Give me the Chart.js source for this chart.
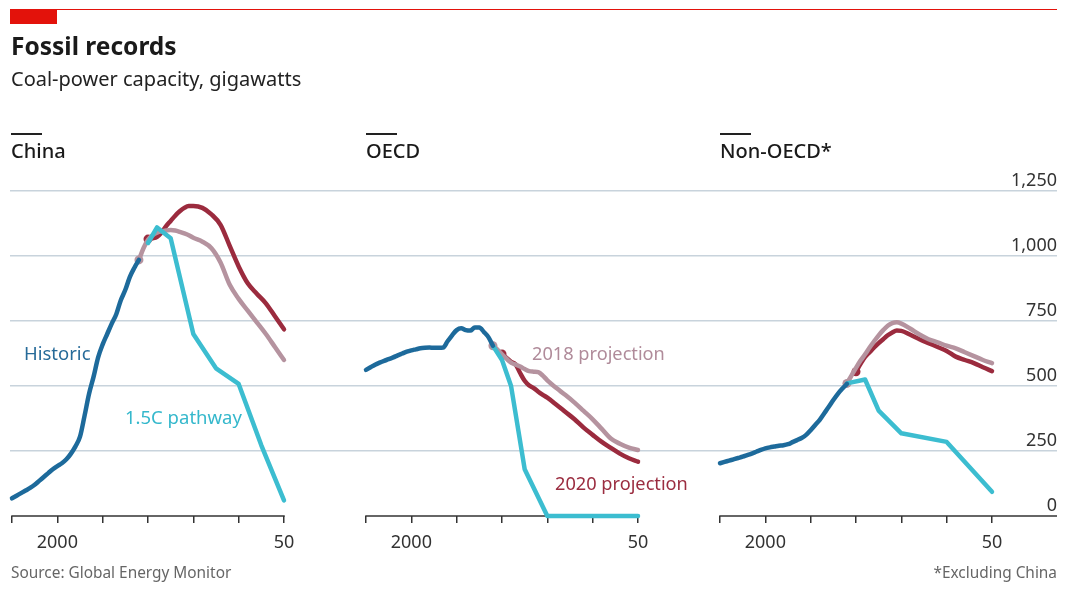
<!DOCTYPE html>
<html>
<head>
<meta charset="utf-8">
<script src="https://cdn.jsdelivr.net/npm/chart.js@4"></script>
<style>
  body { margin: 0; background: #fff; }
  #wrap { position: relative; width: 1071px; height: 595px; font-family: "Noto Sans", sans-serif; color: #222; }
  #wrap canvas { position: absolute; left: 0; top: 0; }
  .t { position: absolute; white-space: nowrap; line-height: 1; }
  .bar { position: absolute; background: #222; }
  .panel { font-size: 20px; font-weight: 500; color: #1a1a1a; }
</style>
</head>
<body>
<div id="wrap">
  <canvas id="chart" width="1071" height="595"></canvas>
  <div style="position:absolute;left:10px;top:9px;width:1047px;height:1px;background:#e3120b"></div>
  <div style="position:absolute;left:10px;top:10px;width:47px;height:14px;background:#e3120b"></div>
  <div class="t" style="left:11px;top:34px;font-size:24.5px;font-weight:bold;color:#1a1a1a">Fossil records</div>
  <div class="t" style="left:11px;top:69px;font-size:20px">Coal-power capacity, gigawatts</div>

  <div class="bar" style="left:11px;top:133px;width:31px;height:2px"></div>
  <div class="t panel" style="left:11px;top:141px">China</div>
  <div class="bar" style="left:366px;top:133px;width:31px;height:2px"></div>
  <div class="t panel" style="left:366px;top:141px">OECD</div>
  <div class="bar" style="left:720px;top:133px;width:31px;height:2px"></div>
  <div class="t panel" style="left:720px;top:141px">Non-OECD*</div>

  <div class="t" style="left:24px;top:344px;font-size:18.5px;color:#276b99">Historic</div>
  <div class="t" style="left:125px;top:408px;font-size:18.5px;color:#35b8cc">1.5C pathway</div>
  <div class="t" style="left:532px;top:344px;font-size:18.2px;color:#b08b9a">2018 projection</div>
  <div class="t" style="left:555px;top:474px;font-size:18.2px;color:#9b2d40">2020 projection</div>

  <div class="t" style="left:11px;top:565px;font-size:15.4px;color:#666">Source: Global Energy Monitor</div>
  <div class="t" style="right:14px;top:565px;font-size:15.4px;color:#666">*Excluding China</div>
</div>
<script>
// ---- data (gigawatts) ----
const histYears = [1990, 1991, 1992, 1993, 1994, 1995, 1996, 1997, 1998, 1999,
                   2000, 2001, 2002, 2003, 2004, 2005, 2006, 2007, 2008, 2009,
                   2010, 2011, 2012, 2013, 2014, 2015, 2016, 2017, 2018];
const chinaHist = [68, 78, 88, 98, 108, 120, 135, 150, 165, 180,
                   192, 203, 218, 240, 268, 305, 385, 470, 536, 610,
                   660, 700, 740, 776, 830, 870, 920, 955, 985];
const oecdHist = [562, 572, 582, 590, 597, 603, 610, 618, 625, 632,
                  637, 641, 645, 647, 648, 647, 647, 648, 672, 695,
                  715, 722, 715, 713, 725, 725, 708, 688, 655];
const nonOecdHist = [203, 208, 213, 218, 223, 228, 234, 240, 247, 254,
                     260, 264, 267, 270, 272, 276, 284, 292, 300, 312,
                     330, 350, 370, 395, 420, 446, 470, 490, 508];

const proj18Years = [2018, 2019, 2020, 2021, 2022, 2023, 2024, 2025, 2026, 2027, 2028, 2029,
                     2030, 2032, 2034, 2036, 2038, 2040, 2042, 2044, 2046, 2048, 2050];
const chinaProj18 = [985, 1030, 1062, 1080, 1090, 1095, 1098, 1100, 1098, 1093, 1087, 1080,
                     1070, 1055, 1030, 975, 890, 835, 790, 745, 700, 650, 600];
const oecdProj18 = [655, 640, 622, 605, 590, 582, 575, 565, 557, 555, 553, 540,
                    522, 492, 465, 436, 404, 372, 335, 298, 278, 263, 254];
const nonOecdProj18 = [510, 540, 570, 598, 622, 648, 672, 695, 715, 732, 742, 745,
                       740, 720, 698, 680, 668, 655, 645, 630, 615, 600, 588];

const proj20Years = [2020, 2021, 2022, 2023, 2024, 2025, 2026, 2027, 2028, 2029,
                     2030, 2032, 2034, 2036, 2038, 2040, 2042, 2044, 2046, 2048, 2050];
const chinaProj20 = [1065, 1068, 1074, 1090, 1115, 1135, 1155, 1172, 1185, 1192,
                     1192, 1185, 1160, 1120, 1040, 960, 895, 855, 818, 768, 718];
const oecdProj20 = [623, 608, 593, 583, 550, 520, 502, 492, 478, 466,
                    455, 428, 400, 372, 340, 312, 285, 262, 240, 222, 209];
const nonOecdProj20 = [555, 585, 612, 630, 648, 665, 680, 695, 706, 713,
                       712, 697, 680, 665, 650, 635, 613, 600, 588, 572, 557];

const chinaPathYears = [2020, 2022, 2025, 2030, 2035, 2040, 2045, 2050];
const chinaPath = [1050, 1110, 1068, 700, 568, 508, 272, 60];
const oecdPathYears = [2018, 2020, 2022, 2025, 2030, 2050];
const oecdPath = [655, 600, 500, 180, 0, 0];
const nonOecdPathYears = [2018, 2022, 2025, 2030, 2040, 2050];
const nonOecdPath = [510, 525, 405, 318, 285, 93];

const tickYears = [1990, 2000, 2010, 2020, 2030, 2040, 2050];
const yTicks = [0, 250, 500, 750, 1000, 1250];

// ---- layout ----
const areaLeft = 10, areaRight = 1057, areaTop = 191, areaBottom = 516;
const panelLeft = [12, 366, 720];   // pixel of 1990 in each panel
const panelSpan = 272;              // pixels from 1990 to 2050
const pxPerYear = panelSpan / 60;

const colors = { hist: '#1d6a9b', path: '#3cbdd0', p18: '#b5939f', p20: '#9b2b3e' };

function pairs(xs, ys) { return xs.map((x, i) => ({ x: x, y: ys[i] })); }

function line(xs, ys, color, axis, dot, smooth) {
  return {
    data: pairs(xs, ys),
    xAxisID: axis,
    yAxisID: 'y',
    borderColor: color,
    backgroundColor: color,
    borderWidth: 4.5,
    borderCapStyle: 'round',
    borderJoinStyle: 'round',
    cubicInterpolationMode: smooth ? 'monotone' : 'default',
    tension: smooth ? 0.4 : 0,
    pointRadius: (ctx) => (dot && ctx.dataIndex === 0 ? 4.5 : 0),
    pointBorderWidth: 0,
    clip: false
  };
}

const regions = [
  { axis: 'x1', hist: chinaHist, p18: chinaProj18, p20: chinaProj20, pathYears: chinaPathYears, path: chinaPath },
  { axis: 'x2', hist: oecdHist, p18: oecdProj18, p20: oecdProj20, pathYears: oecdPathYears, path: oecdPath },
  { axis: 'x3', hist: nonOecdHist, p18: nonOecdProj18, p20: nonOecdProj20, pathYears: nonOecdPathYears, path: nonOecdPath }
];

const datasets = [];
regions.forEach(r => {
  datasets.push(line(histYears, r.hist, colors.hist, r.axis, false, true));
  datasets.push(line(r.pathYears, r.path, colors.path, r.axis, false, false));
  datasets.push(line(proj18Years, r.p18, colors.p18, r.axis, true, true));
  datasets.push(line(proj20Years, r.p20, colors.p20, r.axis, true, true));
});

function xScale(i) {
  const min = 1990 - (panelLeft[i] - areaLeft) / pxPerYear;
  return {
    type: 'linear',
    position: { y: 0 },
    min: min,
    max: min + (areaRight - areaLeft) / pxPerYear,
    afterBuildTicks: (scale) => { scale.ticks = tickYears.map(v => ({ value: v })); },
    border: { display: false },
    grid: { drawOnChartArea: false, drawTicks: true, tickLength: 7, color: '#333', lineWidth: 1.5 },
    ticks: {
      autoSkip: false, maxRotation: 0, padding: 9,
      color: '#333', font: { family: 'Noto Sans', size: 18 },
      callback: (v) => (v === 2000 ? '2000' : v === 2050 ? '50' : '')
    }
  };
}

// axis baselines drawn only under each panel's own years
const baselines = {
  id: 'baselines',
  beforeDatasetsDraw(chart) {
    const ctx = chart.ctx;
    const y0 = chart.scales.y.getPixelForValue(0);
    ctx.save();
    ctx.strokeStyle = '#333';
    ctx.lineWidth = 1.5;
    ['x1', 'x2', 'x3'].forEach((id, i) => {
      const s = chart.scales[id];
      const end = i === 2 ? chart.chartArea.right : s.getPixelForValue(2050) + 0.75;
      ctx.beginPath();
      ctx.moveTo(s.getPixelForValue(1990) - 0.75, y0);
      ctx.lineTo(end, y0);
      ctx.stroke();
    });
    ctx.restore();
  }
};

new Chart(document.getElementById('chart'), {
  type: 'line',
  data: { datasets: datasets },
  plugins: [baselines],
  options: {
    responsive: false,
    animation: false,
    devicePixelRatio: 1,
    layout: { padding: { left: areaLeft, right: 1071 - areaRight, top: areaTop, bottom: 595 - areaBottom } },
    plugins: { legend: { display: false }, tooltip: { enabled: false } },
    scales: {
      x1: xScale(0),
      x2: xScale(1),
      x3: xScale(2),
      y: {
        position: 'right',
        min: 0,
        max: 1250,
        afterBuildTicks: (scale) => { scale.ticks = yTicks.map(v => ({ value: v })); },
        border: { display: false },
        grid: {
          drawTicks: false,
          lineWidth: 1.5,
          color: (ctx) => (ctx.tick && ctx.tick.value === 0 ? 'rgba(0,0,0,0)' : '#c8d3dc')
        },
        ticks: {
          mirror: true, padding: 0, labelOffset: -10,
          color: '#333', font: { family: 'Noto Sans', size: 18 },
          callback: (v) => v.toLocaleString('en-US')
        }
      }
    }
  }
});
</script>
</body>
</html>
